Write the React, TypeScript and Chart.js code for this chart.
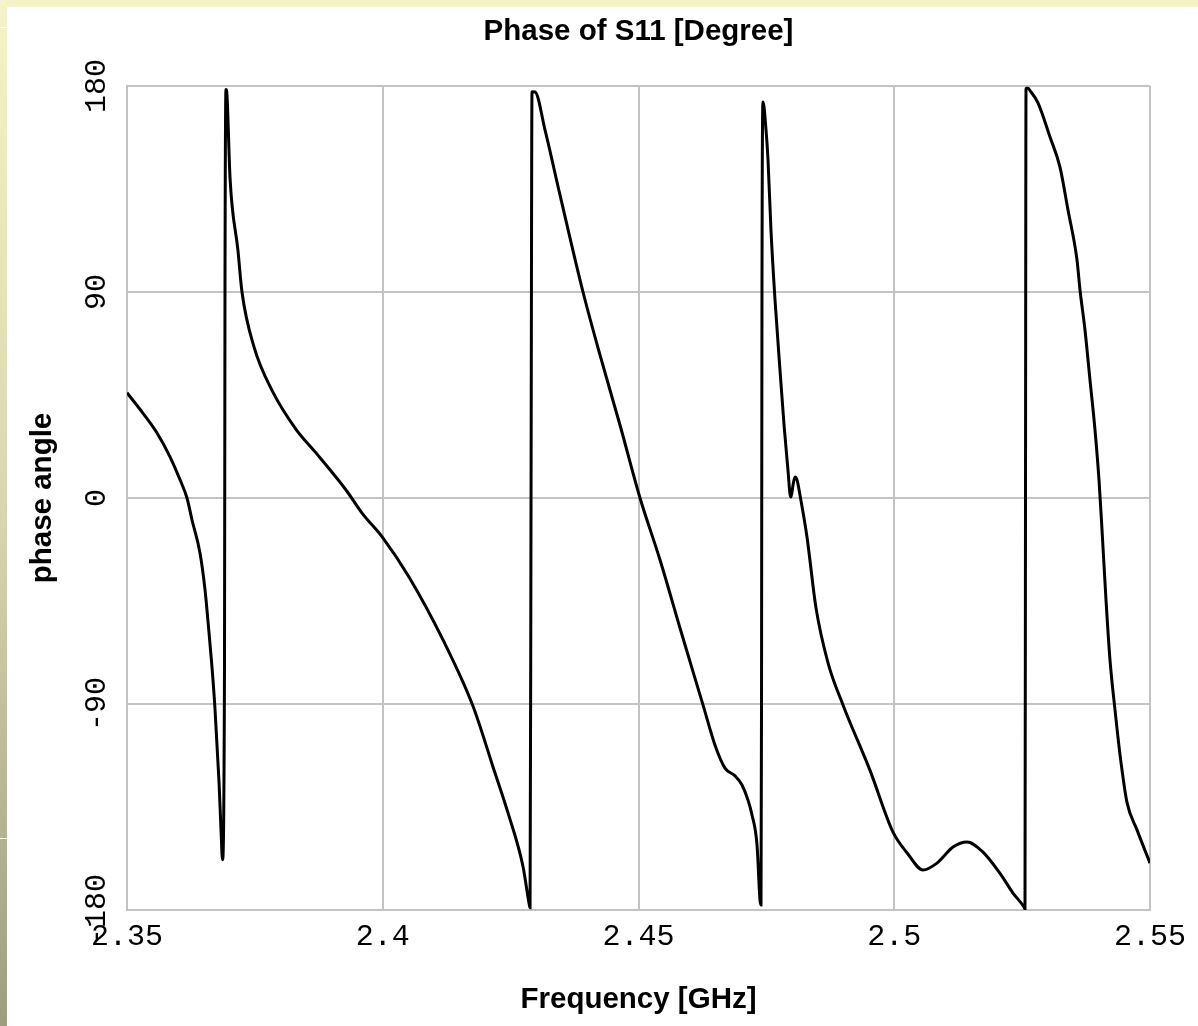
import React, { useEffect, useRef } from "react";
import { Chart, registerables } from "chart.js";

Chart.register(...registerables);

// ---- Data ----
const freqGHz = [
  // segment 1
  2.35, 2.35313, 2.35587, 2.35841, 2.36036, 2.36173, 2.36271, 2.36427, 2.36525, 2.36584,
  2.36662, 2.3672, 2.36799, 2.36838, 2.36867, 2.36906, 2.36916, 2.36935,
  // segment 2
  2.36955, 2.37014, 2.3717, 2.37248, 2.37483, 2.37835, 2.38304, 2.38695, 2.39282, 2.39595,
  2.40006, 2.40513, 2.41178, 2.41765, 2.42156, 2.42469, 2.42742, 2.4286, 2.4288, 2.42899, 2.42918,
  // segment 3
  2.42977, 2.43172, 2.43465, 2.43915, 2.44247, 2.44638, 2.4503, 2.4542, 2.45811, 2.46261,
  2.46496, 2.46691, 2.46887, 2.47023, 2.47141, 2.47219, 2.47317, 2.47375, 2.47395, 2.47405,
  2.47414, 2.47434,
  // segment 4
  2.47493, 2.47532, 2.4759, 2.47669, 2.47766, 2.47845, 2.47923, 2.47962, 2.47981, 2.48021,
  2.4806, 2.48099, 2.48157, 2.48294, 2.4847, 2.48705, 2.48998, 2.49526, 2.49976, 2.50249,
  2.50562, 2.50836, 2.51149, 2.51422, 2.51735, 2.52068, 2.52322, 2.52537, 2.52556, 2.52566,
  2.52576,
  // segment 5
  2.52615, 2.52654, 2.5281, 2.53045, 2.5324, 2.53397, 2.53573, 2.53631, 2.53729, 2.53827,
  2.53925, 2.54003, 2.54062, 2.5414, 2.54218, 2.54316, 2.54413, 2.5455, 2.54746, 2.54902, 2.55,
];

const phaseDeg = [
  // segment 1
  46, 37, 28.4, 18, 8, 0, -9.6, -24, -40, -54,
  -74, -92, -124, -145, -158, -74, 94, 178.5,
  // segment 2
  176, 140, 108, 90, 66, 47, 30, 19.7, 3.5, -6.6,
  -17.5, -34.5, -62, -91, -117.5, -139, -161, -177, -179, 0, 177.5,
  // segment 3
  177.4, 160.8, 132.4, 90, 62.5, 31.9, 0, -27, -56.8, -90.4,
  -108, -118, -121.4, -125.4, -132, -138.5, -151.6, -175.6, -177.8, -90,
  90, 173,
  // segment 4
  160.8, 147.7, 117, 86.5, 56, 32, 12, 1.7, 0.4, 5.7,
  9.2, 7.9, 1.3, -17, -48, -72, -90.4, -119, -146, -155,
  -162.5, -159.5, -152.5, -150.3, -154.7, -164, -172.6, -178.7, -179.5, 0,
  179,
  // segment 5
  179, 178, 172.6, 157.7, 144.6, 125.8, 104, 91, 73.4, 51.5,
  29.7, 7.9, -14, -44.6, -70.8, -92.6, -112, -133, -145, -154, -159.5,
];

const xTickValues = [2.35, 2.4, 2.45, 2.5, 2.55];
const xTickLabels = ["2.35", "2.4", "2.45", "2.5", "2.55"];
const yTickValues = [-180, -90, 0, 90, 180];
const yTickLabels = ["-180", "-90", "0", "90", "180"];

const chartTitle = "Phase of S11 [Degree]";
const xAxisTitle = "Frequency [GHz]";
const yAxisTitle = "phase angle";

const SANS = "'Liberation Sans', Arial, sans-serif";
const MONO = "'Liberation Mono', 'Courier New', monospace";
const GRID = "#c3c3c3";

function labelFor(values: number[], labels: string[], v: number): string {
  const i = values.findIndex((t) => Math.abs(t - v) < 1e-9);
  return i >= 0 ? labels[i] : "";
}

export default function App() {
  const canvasRef = useRef<HTMLCanvasElement>(null);

  useEffect(() => {
    document.body.style.margin = "0";
    const canvas = canvasRef.current;
    if (!canvas) return;
    const points = freqGHz.map((f, i) => ({ x: f, y: phaseDeg[i] }));

    const chart = new Chart(canvas, {
      type: "line",
      data: {
        datasets: [
          {
            data: points,
            borderColor: "#000000",
            borderWidth: 3,
            pointRadius: 0,
            fill: false,
            cubicInterpolationMode: "monotone",
          },
        ],
      },
      options: {
        animation: false,
        responsive: false,
        devicePixelRatio: 1,
        layout: { padding: { left: 8, right: 48, top: 0, bottom: 0 } },
        plugins: {
          legend: { display: false },
          tooltip: { enabled: false },
          title: {
            display: true,
            text: chartTitle,
            fullSize: false,
            color: "#000000",
            font: { family: SANS, size: 29.5, weight: "bold" },
            padding: { top: 14.3, bottom: 36.3 },
          },
        },
        scales: {
          x: {
            type: "linear",
            min: 2.35,
            max: 2.55,
            afterBuildTicks: (s: any) => {
              s.ticks = xTickValues.map((v) => ({ value: v }));
            },
            afterFit: (s: any) => {
              s.height = 116;
            },
            ticks: {
              autoSkip: false,
              minRotation: 0,
              maxRotation: 0,
              padding: 9,
              color: "#000000",
              font: { family: MONO, size: 30 },
              callback: (v: any) => labelFor(xTickValues, xTickLabels, Number(v)),
            },
            grid: { color: GRID, lineWidth: 2, drawTicks: false },
            border: { color: GRID, width: 2 },
            title: {
              display: true,
              text: xAxisTitle,
              color: "#000000",
              font: { family: SANS, size: 29.5, weight: "bold" },
              padding: { top: 0, bottom: 8.3 },
            },
          },
          y: {
            type: "linear",
            min: -180,
            max: 180,
            afterBuildTicks: (s: any) => {
              s.ticks = yTickValues.map((v) => ({ value: v }));
            },
            afterFit: (s: any) => {
              s.width = 119;
            },
            ticks: {
              autoSkip: false,
              minRotation: 90,
              maxRotation: 90,
              crossAlign: "center",
              padding: -6.5,
              color: "#000000",
              font: { family: MONO, size: 30 },
              callback: (v: any) => labelFor(yTickValues, yTickLabels, Number(v)),
            },
            grid: { color: GRID, lineWidth: 2, drawTicks: false },
            border: { color: GRID, width: 2 },
            title: {
              display: true,
              text: yAxisTitle,
              color: "#000000",
              font: { family: SANS, size: 29.5, weight: "bold" },
              padding: { top: 17.3, bottom: 0 },
            },
          },
        },
      } as any,
    });

    return () => chart.destroy();
  }, []);

  return (
    <div style={{ position: "relative", width: 1198, height: 1026, background: "#ffffff", overflow: "hidden" }}>
      <canvas
        ref={canvasRef}
        width={1198}
        height={1026}
        style={{ position: "absolute", left: 0, top: 0, width: 1198, height: 1026, display: "block" }}
      />
      <div style={{ position: "absolute", left: 0, top: 0, width: 1198, height: 7, background: "#f4f2c6" }} />
      <div
        style={{
          position: "absolute",
          left: 0,
          top: 0,
          width: 7,
          height: 1026,
          background: "linear-gradient(#f5f3c7, #d8d6ac 50%, #9e9d7f)",
        }}
      />
      <div style={{ position: "absolute", left: 0, top: 27, width: 7, height: 1, background: "#ffffff" }} />
      <div style={{ position: "absolute", left: 0, top: 838, width: 7, height: 1, background: "#ffffff" }} />
    </div>
  );
}
